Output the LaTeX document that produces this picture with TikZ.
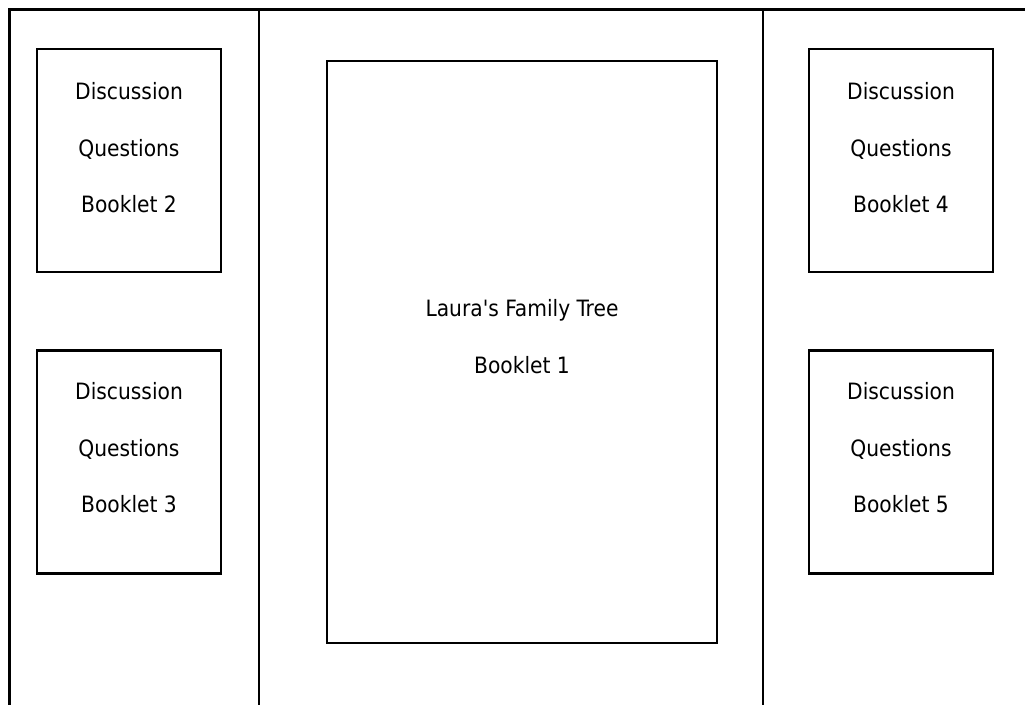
\documentclass[tikz,border=0pt]{standalone}
\usepackage{fontspec}
\setmainfont{DejaVu Sans Condensed}
\usetikzlibrary{positioning}
\tikzset{
    booklet/.style={
        draw,
        line width=2.5pt,
        minimum width=184pt,
        minimum height=223pt,
        inner sep=0pt
    },
    bookletlabel/.style={
        font=\fontsize{22.5}{56.5}\selectfont,
        align=center,
        inner sep=0pt
    }
}

\begin{document}
\begin{tikzpicture}
[
    x=1pt,
    y=-1pt,
    panel/.style={
        line width=2.5pt
    },
]
\useasboundingbox (0,0) rectangle (1025,704);
\clip (0,0) rectangle (1025,704);
% board with its three panels
\draw[panel] (9.5,720) -- (9.5,9.5) -- (1040,9.5);
\draw[panel] (259,9.5) -- (259,720);
\draw[panel] (763,9.5) -- (763,720);
% booklets
\node[booklet] (b2) at (129,160.5) {};
\node[booklet] (b3) at (129,462) {};
\node[booklet, minimum width=390pt, minimum height=582pt] (b1) at (522,352) {};
\node[booklet] (b4) at (901,160.5) {};
\node[booklet] (b5) at (901,462) {};
\node[bookletlabel] (t2) at ([yshift=12.5pt]b2.center) {Discussion\\Questions\\Booklet 2};
\node[bookletlabel] (t3) at ([yshift=14pt]b3.center) {Discussion\\Questions\\Booklet 3};
\node[bookletlabel] (t1) at ([yshift=15.5pt]b1.center) {Laura\textquotesingle s Family Tree\\Booklet 1};
\node[bookletlabel] (t4) at ([yshift=12.5pt]b4.center) {Discussion\\Questions\\Booklet 4};
\node[bookletlabel] (t5) at ([yshift=14pt]b5.center) {Discussion\\Questions\\Booklet 5};
\end{tikzpicture}
\end{document}
